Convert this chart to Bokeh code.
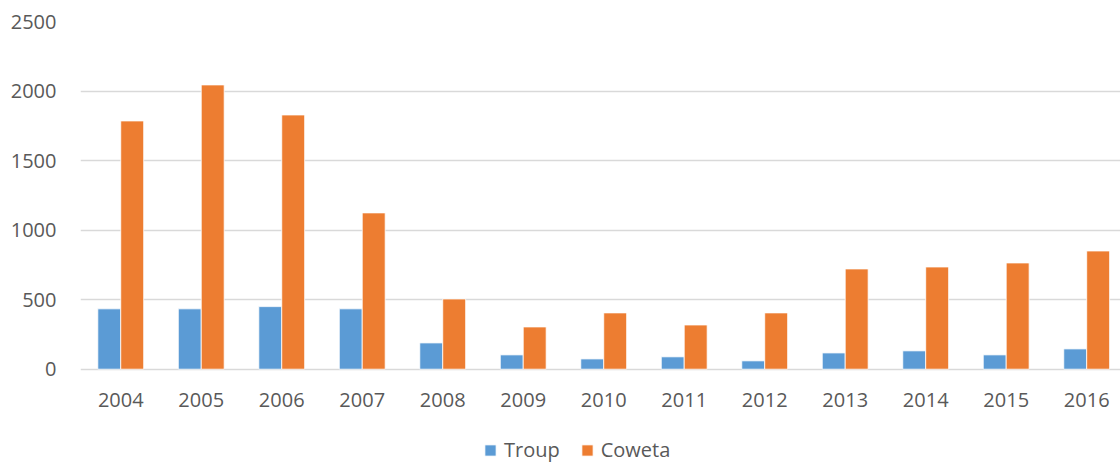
from bokeh.plotting import figure
from bokeh.models import ColumnDataSource, Range1d, FixedTicker, Legend, LegendItem
from bokeh.transform import dodge
from bokeh.core.properties import value
from bokeh.embed import file_html
from bokeh.resources import INLINE

years = ["2004", "2005", "2006", "2007", "2008", "2009", "2010",
         "2011", "2012", "2013", "2014", "2015", "2016"]
troup = [434, 434, 450, 434, 189, 103, 74, 89, 60, 117, 132, 103, 146]
coweta = [1785, 2044, 1828, 1124, 505, 304, 405, 318, 405, 721, 735, 764, 850]
y_ticks = [0, 500, 1000, 1500, 2000, 2500]

idx = list(range(len(years)))
src = ColumnDataSource(dict(idx=idx, troup=troup, coweta=coweta, year=years,
                            base=[0] * len(years)))

FONT = "Open Sans"
GRAY = "#595959"

p = figure(width=1120, height=463, output_backend="svg", toolbar_location=None,
           x_range=Range1d(-0.5, 12.42), y_range=Range1d(-678, 2500),
           x_axis_location=None,
           min_border_left=80, min_border_top=21, min_border_right=0,
           min_border_bottom=0)
p.outline_line_color = None
p.background_fill_color = "white"
p.border_fill_color = "white"

bw = 0.285
r1 = p.vbar(x=dodge("idx", -bw / 2), top="troup", width=bw, source=src,
            fill_color="#5B9BD5", line_color="white", line_width=0.8)
r2 = p.vbar(x=dodge("idx", bw / 2), top="coweta", width=bw, source=src,
            fill_color="#ED7D31", line_color="white", line_width=0.8)

# category labels under the zero line
p.text(x="idx", y="base", text="year", source=src, y_offset=31,
       text_align="center", text_baseline="middle",
       text_font=value(FONT), text_font_size="20px", text_color=GRAY)

p.yaxis.ticker = FixedTicker(ticks=y_ticks)
p.yaxis.axis_line_color = None
p.yaxis.major_tick_line_color = None
p.yaxis.minor_tick_line_color = None
p.yaxis.major_label_text_font = FONT
p.yaxis.major_label_text_font_size = "20px"
p.yaxis.major_label_text_color = GRAY
p.yaxis.major_label_standoff = 18

p.xgrid.grid_line_color = None
p.ygrid.grid_line_color = "#D9D9D9"
p.ygrid.grid_line_width = 1.5

legend = Legend(items=[LegendItem(label="Troup", renderers=[r1]),
                       LegendItem(label="Coweta", renderers=[r2])],
                location=(403, 0), orientation="horizontal",
                border_line_color=None, background_fill_alpha=0,
                margin=0, padding=0, spacing=20, label_standoff=7,
                glyph_width=14, glyph_height=14,
                label_text_font=FONT, label_text_font_size="20px",
                label_text_color=GRAY)
p.add_layout(legend, "center")

open("out.html", "w").write(file_html(p, INLINE))
